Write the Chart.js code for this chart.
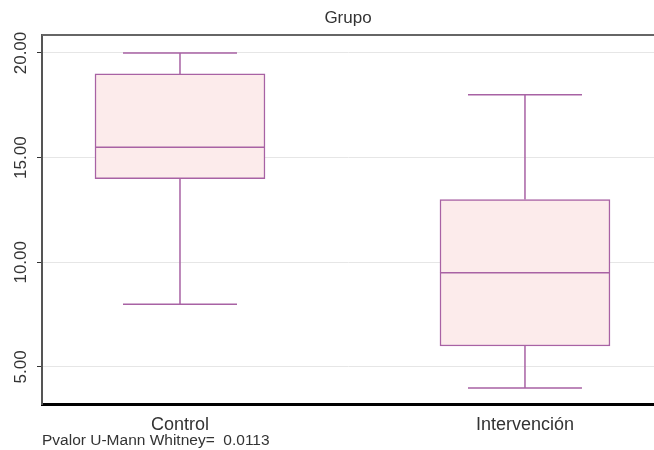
<!DOCTYPE html>
<html>
<head>
<meta charset="utf-8">
<script src="https://cdn.jsdelivr.net/npm/chart.js@4/dist/chart.umd.min.js"></script>
<style>
  html, body { margin: 0; padding: 0; background: #fff; }
  #wrap { width: 654px; height: 450px; }
</style>
</head>
<body>
<div id="wrap"><canvas id="c" width="654" height="450"></canvas></div>
<script>
const categories = ['Control', 'Intervención'];
const catPositions = [1, 2];
const whiskerMin = [8, 4];
const q1 = [14, 6];
const median = [15.5, 9.5];
const q3 = [19, 13];
const whiskerMax = [20, 18];
const yTicks = [5, 10, 15, 20];
const chartTitle = 'Grupo';
const footNote = 'Pvalor U-Mann Whitney=  0.0113';

const boxFill = '#fcebeb';
const boxLine = '#a862a4';
const font = 'Liberation Sans, Arial, sans-serif';

const whiskerPlugin = {
  id: 'whiskers',
  afterDatasetsDraw(chart) {
    const ctx = chart.ctx;
    const xs = chart.scales.x, ys = chart.scales.y;
    ctx.save();
    ctx.strokeStyle = boxLine;
    ctx.lineWidth = 1.5;
    catPositions.forEach((p, i) => {
      const cx = xs.getPixelForValue(p);
      const halfBox = 85, halfCap = 57;
      const yMed = ys.getPixelForValue(median[i]);
      const yQ1 = ys.getPixelForValue(q1[i]);
      const yQ3 = ys.getPixelForValue(q3[i]);
      const yMin = ys.getPixelForValue(whiskerMin[i]);
      const yMax = ys.getPixelForValue(whiskerMax[i]);
      ctx.beginPath();
      ctx.moveTo(cx - halfBox, yMed); ctx.lineTo(cx + halfBox, yMed);
      ctx.moveTo(cx, yQ3); ctx.lineTo(cx, yMax);
      ctx.moveTo(cx, yQ1); ctx.lineTo(cx, yMin);
      ctx.moveTo(cx - halfCap, yMax); ctx.lineTo(cx + halfCap, yMax);
      ctx.moveTo(cx - halfCap, yMin); ctx.lineTo(cx + halfCap, yMin);
      ctx.stroke();
    });
    ctx.restore();
  },
  afterDraw(chart) {
    const ctx = chart.ctx;
    const a = chart.chartArea;
    ctx.save();
    ctx.strokeStyle = '#666';
    ctx.lineWidth = 2;
    ctx.beginPath();
    ctx.moveTo(a.left, a.top);
    ctx.lineTo(a.right, a.top);
    ctx.stroke();
    ctx.restore();
  }
};

new Chart(document.getElementById('c'), {
  type: 'bar',
  data: {
    datasets: [{
      data: catPositions.map((p, i) => ({ x: p, y: [q1[i], q3[i]] })),
      backgroundColor: boxFill,
      borderColor: boxLine,
      borderWidth: 1.5,
      borderSkipped: false,
      barThickness: 170
    }]
  },
  options: {
    responsive: false,
    animation: false,
    layout: { padding: 0 },
    plugins: {
      legend: { display: false },
      tooltip: { enabled: false },
      title: {
        display: true,
        fullSize: false,
        text: chartTitle,
        color: '#333',
        font: { family: font, size: 17, weight: 'normal' },
        padding: { top: 8, bottom: 6.6 }
      }
    },
    scales: {
      x: {
        type: 'linear',
        offset: false,
        min: 0.6,
        max: 2.374,
        afterBuildTicks(s) { s.ticks = catPositions.map(v => ({ value: v })); },
        afterFit(s) { s.height = 46; },
        grid: { display: false, drawTicks: false, offset: false },
        border: { color: '#000', width: 3 },
        ticks: {
          padding: 10,
          color: '#333',
          font: { family: font, size: 18 },
          callback: (v) => categories[catPositions.indexOf(v)]
        },
        title: {
          display: true,
          text: footNote,
          align: 'start',
          color: '#333',
          font: { family: font, size: 15.5 },
          padding: { top: 0, bottom: 0 }
        }
      },
      y: {
        min: 3.23,
        max: 20.86,
        afterBuildTicks(s) { s.ticks = yTicks.map(v => ({ value: v })); },
        afterFit(s) { s.width = 42; },
        grid: {
          color: '#e6e6e6',
          lineWidth: 1,
          tickLength: 5,
          tickColor: '#333'
        },
        border: { color: '#555', width: 2 },
        ticks: {
          minRotation: 90,
          maxRotation: 90,
          crossAlign: 'center',
          padding: -6,
          color: '#333',
          font: { family: font, size: 17 },
          callback: (v) => Number(v).toFixed(2)
        }
      }
    }
  },
  plugins: [whiskerPlugin]
});
</script>
</body>
</html>
